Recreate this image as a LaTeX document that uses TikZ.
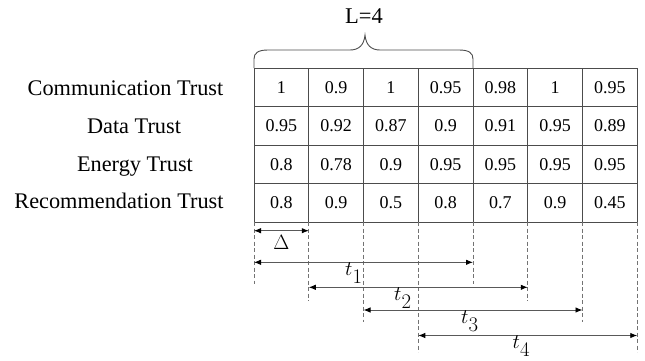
\documentclass[tikz,border=0pt]{standalone}
\usepackage{fontspec}
\setmainfont{Liberation Serif}
\usetikzlibrary{arrows.meta}
\tikzset{
  gridline/.style={draw=black!70, line width=0.9pt},
  guide/.style={draw=black!55, line width=0.9pt, dash pattern=on 4pt off 2.5pt},
  dimarrow/.style={draw=black!65, line width=0.9pt, {Latex[length=7pt,width=5.5pt,black]}-{Latex[length=7pt,width=5.5pt,black]}},
  cell/.style={anchor=base, inner sep=0pt, font=\fontsize{18}{18}\selectfont},
  rowlabel/.style={anchor=base, inner sep=0pt, font=\fontsize{22.3}{22.3}\selectfont},
  mathlabel/.style={anchor=base west, inner sep=0pt, font=\fontsize{20}{20}\selectfont},
}
\begin{document}
\begin{tikzpicture}[x=1pt,y=-1pt]
\useasboundingbox (0,0) rectangle (645,360);
% column coordinates
\foreach \i in {0,...,7}{
  \pgfmathsetmacro{\xx}{254+54.75*\i}
  \coordinate (col\i) at (\xx,222);
}
% grid
\foreach \j in {0,...,4}{
  \pgfmathsetmacro{\yy}{68+38.5*\j}
  \draw[gridline] (254,\yy) -- (637.25,\yy);
}
\foreach \i/\e in {0/284,1/301,2/322,3/352,4/284,5/301,6/322,7/352}{
  \pgfmathsetmacro{\xx}{254+54.75*\i}
  \draw[gridline] (\xx,68) -- (\xx,222);
  \coordinate (end\i) at (\xx,\e);
  \draw[guide] (col\i) -- (end\i);
}
% cell values
\foreach \r/\vals in {1/{1,0.9,1,0.95,0.98,1,0.95},2/{0.95,0.92,0.87,0.9,0.91,0.95,0.89},3/{0.8,0.78,0.9,0.95,0.95,0.95,0.95},4/{0.8,0.9,0.5,0.8,0.7,0.9,0.45}}{
  \foreach \v [count=\c] in \vals {
    \pgfmathsetmacro{\xx}{254+54.75*(\c-0.5)}
    \pgfmathsetmacro{\yy}{68+38.5*(\r-0.5)+5.8}
    \node[cell] (v\r-\c) at (\xx,\yy) {\v};
  }
}
% row labels
\node[rowlabel] (lab1) at (125.5,95) {Communication Trust};
\node[rowlabel] (lab2) at (134,133.5) {Data Trust};
\node[rowlabel] (lab3) at (135,171) {Energy Trust};
\node[rowlabel] (lab4) at (119,208.5) {Recommendation Trust};
% brace
\draw[draw=black!70, line width=0.9pt] (254,68) -- (254,59) .. controls (254,53) and (258,50) .. (268,50) -- (350,50) .. controls (359,50) and (364,45) .. (365,35) .. controls (366,45) and (371,50) .. (380,50) -- (459,50) .. controls (469,50) and (473,53) .. (473,59) -- (473,68);
\node[anchor=base, inner sep=0pt, font=\fontsize{22.5}{22.5}\selectfont] (L) at (364,23) {L=4};
% dimension arrows
\coordinate (d0) at (254,230.7);
\coordinate (d1) at (308.75,230.7);
\draw[dimarrow] (d0) -- (d1);
\node[anchor=base, inner sep=0pt, font=\fontsize{20}{20}\selectfont] (delta) at (281.5,249.3) {$\Delta$};
\coordinate (a1s) at (254,262.3);   \coordinate (a1e) at (473,262.3);
\coordinate (a2s) at (308.75,287.3); \coordinate (a2e) at (527.75,287.3);
\coordinate (a3s) at (363.5,310);   \coordinate (a3e) at (582.5,310);
\coordinate (a4s) at (418.25,335.5); \coordinate (a4e) at (637.25,335.5);
\draw[dimarrow] (a1s) -- (a1e);
\draw[dimarrow] (a2s) -- (a2e);
\draw[dimarrow] (a3s) -- (a3e);
\draw[dimarrow] (a4s) -- (a4e);
\node[mathlabel] (t1) at (345,275) {$t$\raisebox{-8pt}{$1$}};
\node[mathlabel] (t2) at (394,300) {$t$\raisebox{-8pt}{$2$}};
\node[mathlabel] (t3) at (461,323) {$t$\raisebox{-8pt}{$3$}};
\node[mathlabel] (t4) at (512.5,348) {$t$\raisebox{-8pt}{$4$}};
\end{tikzpicture}
\end{document}
